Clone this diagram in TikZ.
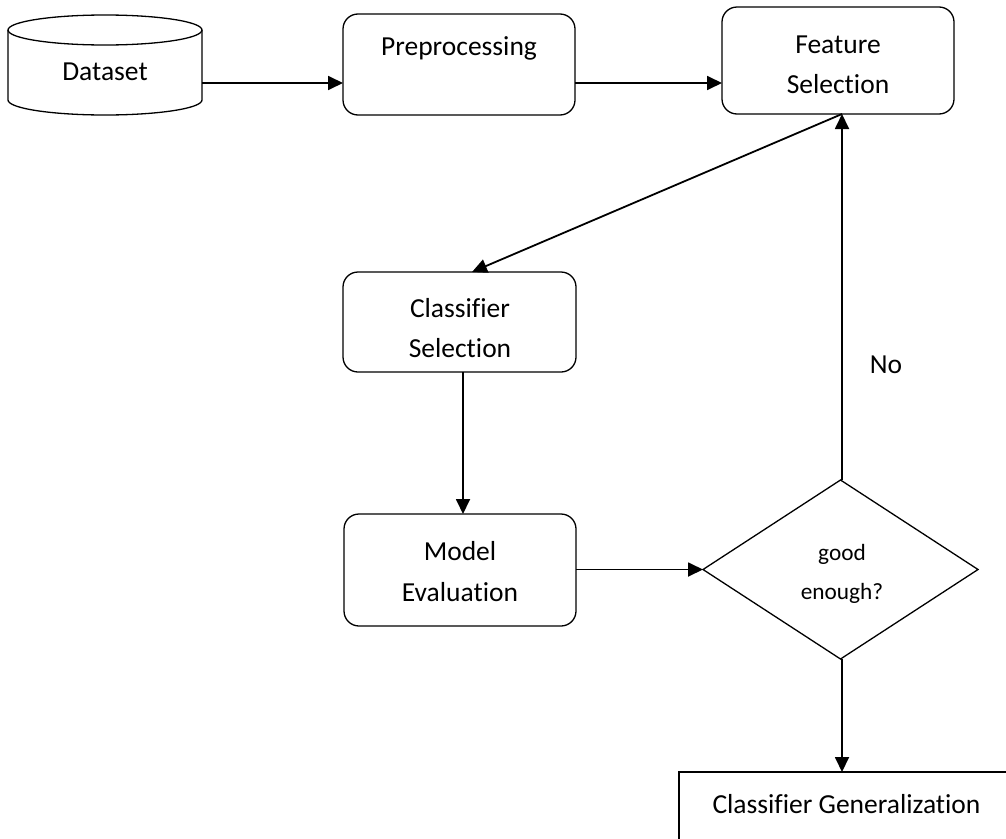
\documentclass[tikz,border=0pt]{standalone}
\usepackage{fontspec}
\setmainfont{Carlito}[Ligatures=NoCommon]
\usetikzlibrary{arrows.meta,shapes.geometric}
\begin{document}
\begin{tikzpicture}[x=1pt,y=-1pt,
  box/.style={draw,line width=1.3pt,rounded corners=15pt,inner sep=0pt,outer sep=0pt},
  plainbox/.style={draw,line width=1.3pt,inner sep=0pt,outer sep=0pt},
  dec/.style={draw,diamond,line width=1.3pt,inner sep=0pt,outer sep=0pt,minimum width=275pt,minimum height=179pt},
  arr/.style={line width=1.8pt,-{Triangle[length=15pt,width=14pt]}},
  lbl/.style={anchor=base,inner sep=0pt,font=\fontsize{27.5}{33}\selectfont},
  slbl/.style={anchor=base,inner sep=0pt,font=\fontsize{23.3}{28}\selectfont}]
\useasboundingbox (0,0) rectangle (1006,838);
\clip (0,0) rectangle (1006,838);
% Dataset cylinder
\node[inner sep=0pt,outer sep=0pt,minimum width=194pt,minimum height=100pt] (ds) at (105,65) {};
\draw[line width=1.3pt] (8,30) -- (8,100) arc[start angle=180,end angle=360,x radius=97pt,y radius=15pt] -- (202,30);
\draw[line width=1.3pt] (105,30) ellipse[x radius=97pt,y radius=15pt];
\node[lbl] (dst) at (105,80) {Dataset};
% boxes
\node[box,minimum width=232pt,minimum height=101pt] (pre) at (459,64.5) {};
\node[lbl] (pret) at (459,55) {Preprocessing};
\node[box,minimum width=232pt,minimum height=107pt] (fs) at (838,60.5) {};
\node[lbl] (fst1) at (838,53) {Feature};
\node[lbl] (fst2) at (838,93) {Selection};
\node[box,minimum width=233pt,minimum height=100pt] (cs) at (459.5,322) {};
\node[lbl] (cst1) at (460,317) {Classifier};
\node[lbl] (cst2) at (460,357) {Selection};
\node[box,minimum width=232pt,minimum height=112pt] (me) at (460,570) {};
\node[lbl] (met1) at (460,560) {Model};
\node[lbl] (met2) at (460,601) {Evaluation};
\node[dec] (dia) at (840.5,569.5) {};
\node[slbl] (diat1) at (842,560) {good};
\node[slbl] (diat2) at (842,599) {enough?};
\node[plainbox,minimum width=335pt,minimum height=90pt] (cg) at (846.5,817) {};
\node[lbl] (cgt) at (846.5,813) {Classifier Generalization};
\node[lbl] (no) at (886,373) {No};
% connectors
\coordinate (ya) at (0,83);
\coordinate (xfs) at (842,0);
\coordinate (xcs) at (472,0);
\coordinate (xme) at (463,0);
\draw[arr] (ds.east |- ya) -- (pre.west |- ya);
\draw[arr] (pre.east |- ya) -- (fs.west |- ya);
\draw[arr] (fs.south -| xfs) -- (cs.north -| xcs);
\draw[arr] (cs.south -| xme) -- (me.north -| xme);
\draw[arr] (me.east |- dia.west) -- (dia.west);
\draw[arr] (dia.north -| xfs) -- (fs.south -| xfs);
\draw[arr] (dia.south -| xfs) -- (cg.north -| xfs);
\end{tikzpicture}
\end{document}
